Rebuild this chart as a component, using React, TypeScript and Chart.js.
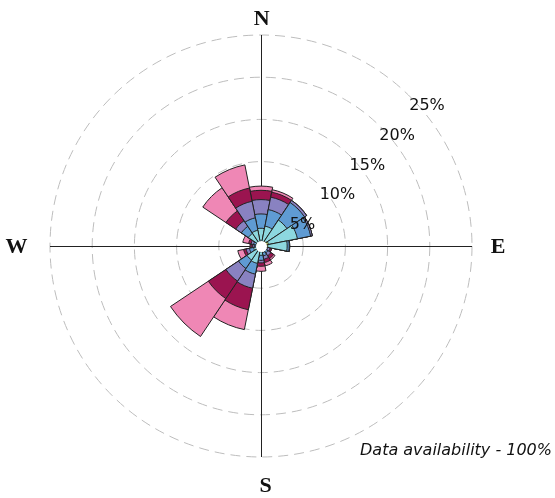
import React, { useEffect, useRef } from "react";
import { Chart, registerables } from "chart.js";

Chart.register(...registerables);

// 16 wind directions, clockwise from North
const directions = ["N", "NNE", "NE", "ENE", "E", "ESE", "SE", "SSE", "S", "SSW", "SW", "WSW", "W", "WNW", "NW", "NNW"];

// frequency (%) of each wind-speed class per direction (not cumulative)
const speedClass1 = [0, 0, 0.7, 0.9, 0.8, 0, 0, 0, 0, 0, 0, 0, 0, 0, 0, 0];
const speedClass2 = [2.1, 2.4, 3.0, 3.5, 2.3, 0.6, 0.7, 0.8, 1.1, 2.1, 2.0, 0.9, 0.5, 0.6, 1.8, 1.9];
const speedClass3 = [1.7, 2.0, 2.5, 1.6, 0.25, 0.2, 0.3, 0.4, 0.6, 1.3, 1.2, 0.5, 0.3, 0.3, 1.0, 1.5];
const speedClass4 = [1.7, 1.5, 0.3, 0.2, 0.05, 0.3, 0.4, 0.4, 0.3, 1.7, 1.8, 0.4, 0.2, 0.3, 0.8, 2.0];
const speedClass5 = [1.1, 0.6, 0, 0, 0, 0.2, 0.4, 0.4, 0.4, 2.6, 2.5, 0.3, 0.2, 0.3, 1.4, 1.6];
const speedClass6 = [0.5, 0.3, 0, 0, 0, 0, 0.2, 0.4, 0.6, 2.4, 5.4, 0.7, 0.1, 0.7, 3.3, 2.8];

const classNames = ["class 1", "class 2", "class 3", "class 4", "class 5", "class 6"];
const classColors = ["#c9da6b", "#8dd7df", "#5f9bd3", "#8982c1", "#9b1450", "#ef87b5"];

const radialTicks = [5, 10, 15, 20, 25];
const compassLabels = ["N", "E", "S", "W"];
const footnote = "Data availability - 100%";

export default function App() {
  const ref = useRef<HTMLCanvasElement | null>(null);

  useEffect(() => {
    if (!ref.current) return;
    const classes = [speedClass1, speedClass2, speedClass3, speedClass4, speedClass5, speedClass6];
    const cumulative: number[][] = [];
    classes.forEach((arr, k) => {
      cumulative.push(arr.map((v, i) => v + (k > 0 ? cumulative[k - 1][i] : 0)));
    });
    const datasets = cumulative.map((data, k) => ({
      label: classNames[k],
      data,
      backgroundColor: classColors[k],
      borderColor: "#222",
      borderWidth: 1,
    }));

    const decor = {
      id: "decor",
      beforeDatasetsDraw(chart: any) {
        const s = chart.scales.r;
        const ctx = chart.ctx as CanvasRenderingContext2D;
        const R = s.drawingArea;
        const cx = s.xCenter;
        const cy = s.yCenter;
        ctx.save();
        ctx.strokeStyle = "#222";
        ctx.lineWidth = 1;
        ctx.beginPath();
        ctx.moveTo(cx + 0.5, cy - R);
        ctx.lineTo(cx + 0.5, cy + R);
        ctx.moveTo(cx - R, cy + 0.5);
        ctx.lineTo(cx + R, cy + 0.5);
        ctx.stroke();
        ctx.restore();
      },
      afterDatasetsDraw(chart: any) {
        const s = chart.scales.r;
        const ctx = chart.ctx as CanvasRenderingContext2D;
        const R = s.drawingArea;
        const cx = s.xCenter;
        const cy = s.yCenter;
        ctx.save();
        // calm centre
        ctx.fillStyle = "#ffffff";
        ctx.beginPath();
        ctx.arc(cx + 0.5, cy + 0.5, 5.5, 0, Math.PI * 2);
        ctx.fill();
        // radial percentage labels along the NE diagonal
        ctx.fillStyle = "#111";
        ctx.font = '16px "DejaVu Sans"';
        ctx.textAlign = "left";
        ctx.textBaseline = "middle";
        radialTicks.forEach((v) => {
          const r = s.getDistanceFromCenterForValue(v);
          const x = cx + r * Math.SQRT1_2;
          const y = cy - r * Math.SQRT1_2;
          ctx.fillText(v + "%", x - 1, y + 9);
        });
        // compass labels
        ctx.font = 'bold 22px "Liberation Serif"';
        ctx.textAlign = "center";
        ctx.textBaseline = "middle";
        ctx.fillStyle = "#111";
        const pos: Record<string, [number, number]> = {
          N: [cx + 0.7, cy - R - 15.5],
          E: [cx + R + 26, cy + 1],
          S: [cx + 4.5, cy + R + 29],
          W: [cx - R - 33.5, cy + 1],
        };
        compassLabels.forEach((l) => {
          const [x, y] = pos[l];
          ctx.fillText(l, x, y);
        });
        // footnote
        ctx.font = 'italic 16px "DejaVu Sans"';
        ctx.textAlign = "right";
        ctx.textBaseline = "alphabetic";
        ctx.fillText(footnote, 552, 455);
        ctx.restore();
      },
    };

    const chart = new Chart(ref.current, {
      type: "polarArea",
      data: { labels: directions, datasets },
      options: {
        responsive: false,
        animation: false,
        devicePixelRatio: 1,
        layout: { padding: { left: 50, top: 35, right: 83, bottom: 41 } },
        plugins: { legend: { display: false }, tooltip: { enabled: false } },
        scales: {
          r: {
            min: 0,
            max: 25,
            startAngle: -11.25,
            ticks: { display: false, stepSize: 5 },
            grid: { circular: true, color: "#bdbdbd", lineWidth: 1 },
            border: { dash: [10, 6] },
            angleLines: { display: false },
            pointLabels: { display: false },
          },
        },
      } as any,
      plugins: [decor],
    });
    return () => chart.destroy();
  }, []);

  return (
    <div style={{ position: "absolute", left: 0, top: 0, width: 555, height: 498, background: "#fff" }}>
      <canvas ref={ref} width={555} height={498} style={{ display: "block" }} />
    </div>
  );
}
